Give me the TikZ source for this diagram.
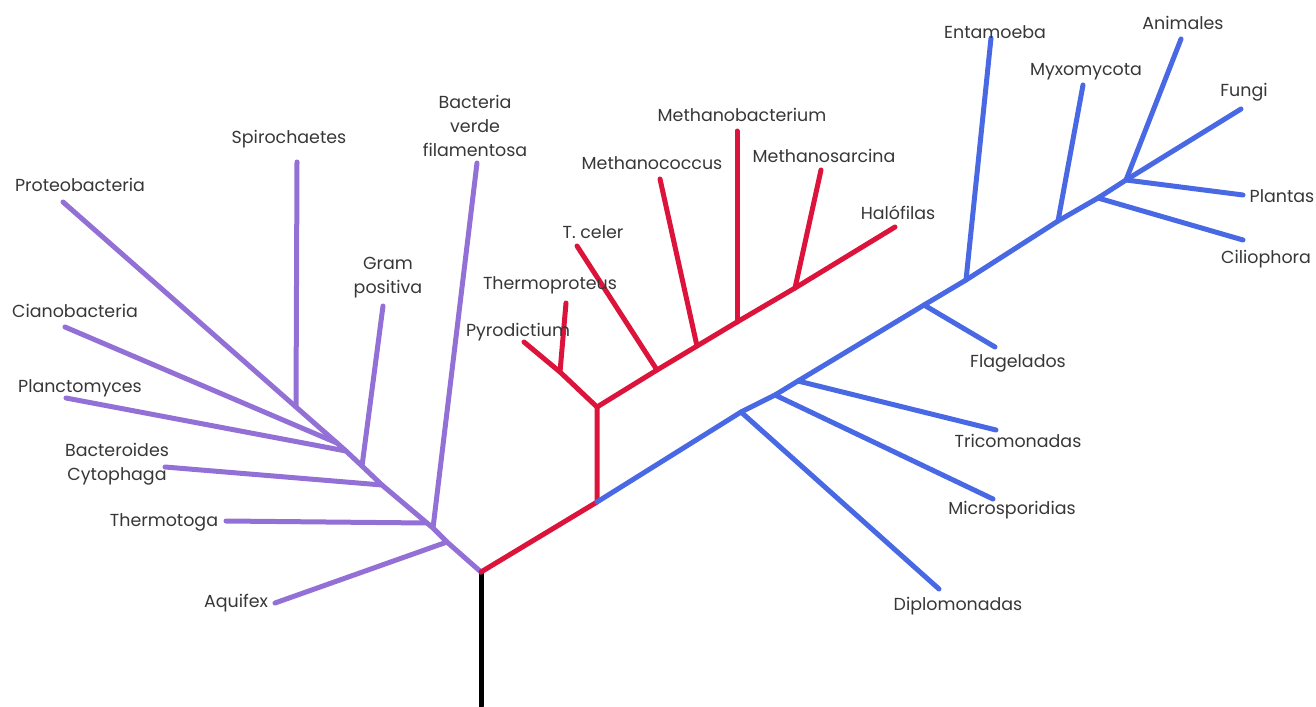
\documentclass[tikz,border=0pt]{standalone}
\usepackage{fontspec}
\setmainfont{Poppins}
\definecolor{cpurple}{RGB}{146,112,214}
\definecolor{cred}{RGB}{220,20,60}
\definecolor{cblue}{RGB}{72,104,228}
\definecolor{ctext}{RGB}{55,55,55}
\begin{document}
\begin{tikzpicture}[x=1bp,y=-1bp,
  br/.style={line width=5bp,line cap=round,line join=round},
  pur/.style={br,draw=cpurple},
  rd/.style={br,draw=cred},
  bl/.style={br,draw=cblue},
  lbl/.style={text=ctext,font=\fontsize{17.5}{24}\selectfont,inner sep=0pt,align=center}]
\useasboundingbox (0,0) rectangle (1316,706);
% ---------- coordinates ----------
\coordinate (root) at (481,572);
\coordinate (base) at (481,706);
% purple
\coordinate (pAq) at (447,542);
\coordinate (pBv) at (433,528);
\coordinate (pTh) at (427,523);
\coordinate (pBc) at (382,485);
\coordinate (pGp) at (362,466);
\coordinate (pPl) at (346,451);
\coordinate (pCi) at (337,443);
\coordinate (pSp) at (296,407);
\coordinate (tPr) at (63,202);
\coordinate (tSp) at (297,162);
\coordinate (tCi) at (65,327);
\coordinate (tPl) at (66,398);
\coordinate (tBc) at (165,467);
\coordinate (tTh) at (226,521);
\coordinate (tAq) at (275,603);
\coordinate (tGp) at (383,306);
\coordinate (tBv) at (477,163);
% red
\coordinate (rA) at (597,502);
\coordinate (rB) at (597,407);
\coordinate (rPT) at (560,372);
\coordinate (tPy) at (524,342);
\coordinate (tTp) at (566,303);
\coordinate (rTc) at (657,370);
\coordinate (tTc) at (577,246);
\coordinate (rMc) at (697,346);
\coordinate (tMc) at (660,179);
\coordinate (rMb) at (737,322);
\coordinate (tMb) at (737,131);
\coordinate (rMs) at (795,288);
\coordinate (tMs) at (821,170);
\coordinate (tHa) at (895,227);
% blue
\coordinate (bDi) at (741,412);
\coordinate (bMi) at (775,395);
\coordinate (bTr) at (798,381);
\coordinate (bFl) at (924,305);
\coordinate (bEn) at (966,280);
\coordinate (bMy) at (1058,221);
\coordinate (bCi) at (1098,198);
\coordinate (bAn) at (1126,180);
\coordinate (tFu) at (1241,109);
\coordinate (tDi) at (939,589);
\coordinate (tMi) at (993,499);
\coordinate (tTr) at (996,430);
\coordinate (tFl) at (995,347);
\coordinate (tEn) at (991,38);
\coordinate (tMy) at (1083,85);
\coordinate (tCil) at (1243,240);
\coordinate (tPla) at (1243,195);
\coordinate (tAn) at (1181,39);
% ---------- branches ----------
\draw[br,draw=black] (base) -- (root);
\draw[pur] (root) -- (pAq) -- (pBv) -- (pTh) -- (pBc) -- (pGp) -- (pPl) -- (pCi) -- (pSp) -- (tPr);
\draw[pur] (pSp) -- (tSp);
\draw[pur] (pCi) -- (tCi);
\draw[pur] (pPl) -- (tPl);
\draw[pur] (pBc) -- (tBc);
\draw[pur] (pTh) -- (tTh);
\draw[pur] (pAq) -- (tAq);
\draw[pur] (pGp) -- (tGp);
\draw[pur] (pBv) -- (tBv);
\draw[rd] (root) -- (rA) -- (rB) -- (rTc) -- (rMc) -- (rMb) -- (rMs) -- (tHa);
\draw[rd] (rB) -- (rPT) -- (tPy);
\draw[rd] (rPT) -- (tTp);
\draw[rd] (rTc) -- (tTc);
\draw[rd] (rMc) -- (tMc);
\draw[rd] (rMb) -- (tMb);
\draw[rd] (rMs) -- (tMs);
\draw[bl] (rA) -- (bDi) -- (bMi) -- (bTr) -- (bFl) -- (bEn) -- (bMy) -- (bCi) -- (bAn) -- (tFu);
\draw[bl] (bDi) -- (tDi);
\draw[bl] (bMi) -- (tMi);
\draw[bl] (bTr) -- (tTr);
\draw[bl] (bFl) -- (tFl);
\draw[bl] (bEn) -- (tEn);
\draw[bl] (bMy) -- (tMy);
\draw[bl] (bCi) -- (tCil);
\draw[bl] (bAn) -- (tPla);
\draw[bl] (bAn) -- (tAn);
% ---------- labels ----------
\node[lbl] (lPr) at (80,185) {Proteobacteria};
\node[lbl] (lSp) at (289,139) {Spirochaetes};
\node[lbl] (lCi) at (75,311) {Cianobacteria};
\node[lbl] (lPl) at (80,388) {Planctomyces};
\node[lbl] (lBc) at (117,464) {Bacteroides\\Cytophaga};
\node[lbl] (lTh) at (164,522) {Thermotoga};
\node[lbl] (lAq) at (236,603) {Aquifex};
\node[lbl] (lGp) at (388,278) {Gram\\positiva};
\node[lbl] (lBv) at (475,126) {Bacteria\\verde\\filamentosa};
\node[lbl] (lMb) at (742,115) {Methanobacterium};
\node[lbl] (lMc) at (652,163) {Methanococcus};
\node[lbl] (lMs) at (824,156) {Methanosarcina};
\node[lbl] (lHa) at (898,213) {Halófilas};
\node[lbl] (lTc) at (593,232) {T. celer};
\node[lbl] (lTp) at (550,285) {Thermoproteus};
\node[lbl] (lPy) at (518,332) {Pyrodictium};
\node[lbl] (lEn) at (995,32) {Entamoeba};
\node[lbl] (lAn) at (1183,23) {Animales};
\node[lbl] (lMy) at (1086,72) {Myxomycota};
\node[lbl] (lFu) at (1244,92) {Fungi};
\node[lbl] (lPla) at (1282,196) {Plantas};
\node[lbl] (lCil) at (1266,259) {Ciliophora};
\node[lbl] (lFl) at (1018,363) {Flagelados};
\node[lbl] (lTr) at (1018,441) {Tricomonadas};
\node[lbl] (lMi) at (1012,510) {Microsporidias};
\node[lbl] (lDi) at (958,606) {Diplomonadas};
\end{tikzpicture}
\end{document}
